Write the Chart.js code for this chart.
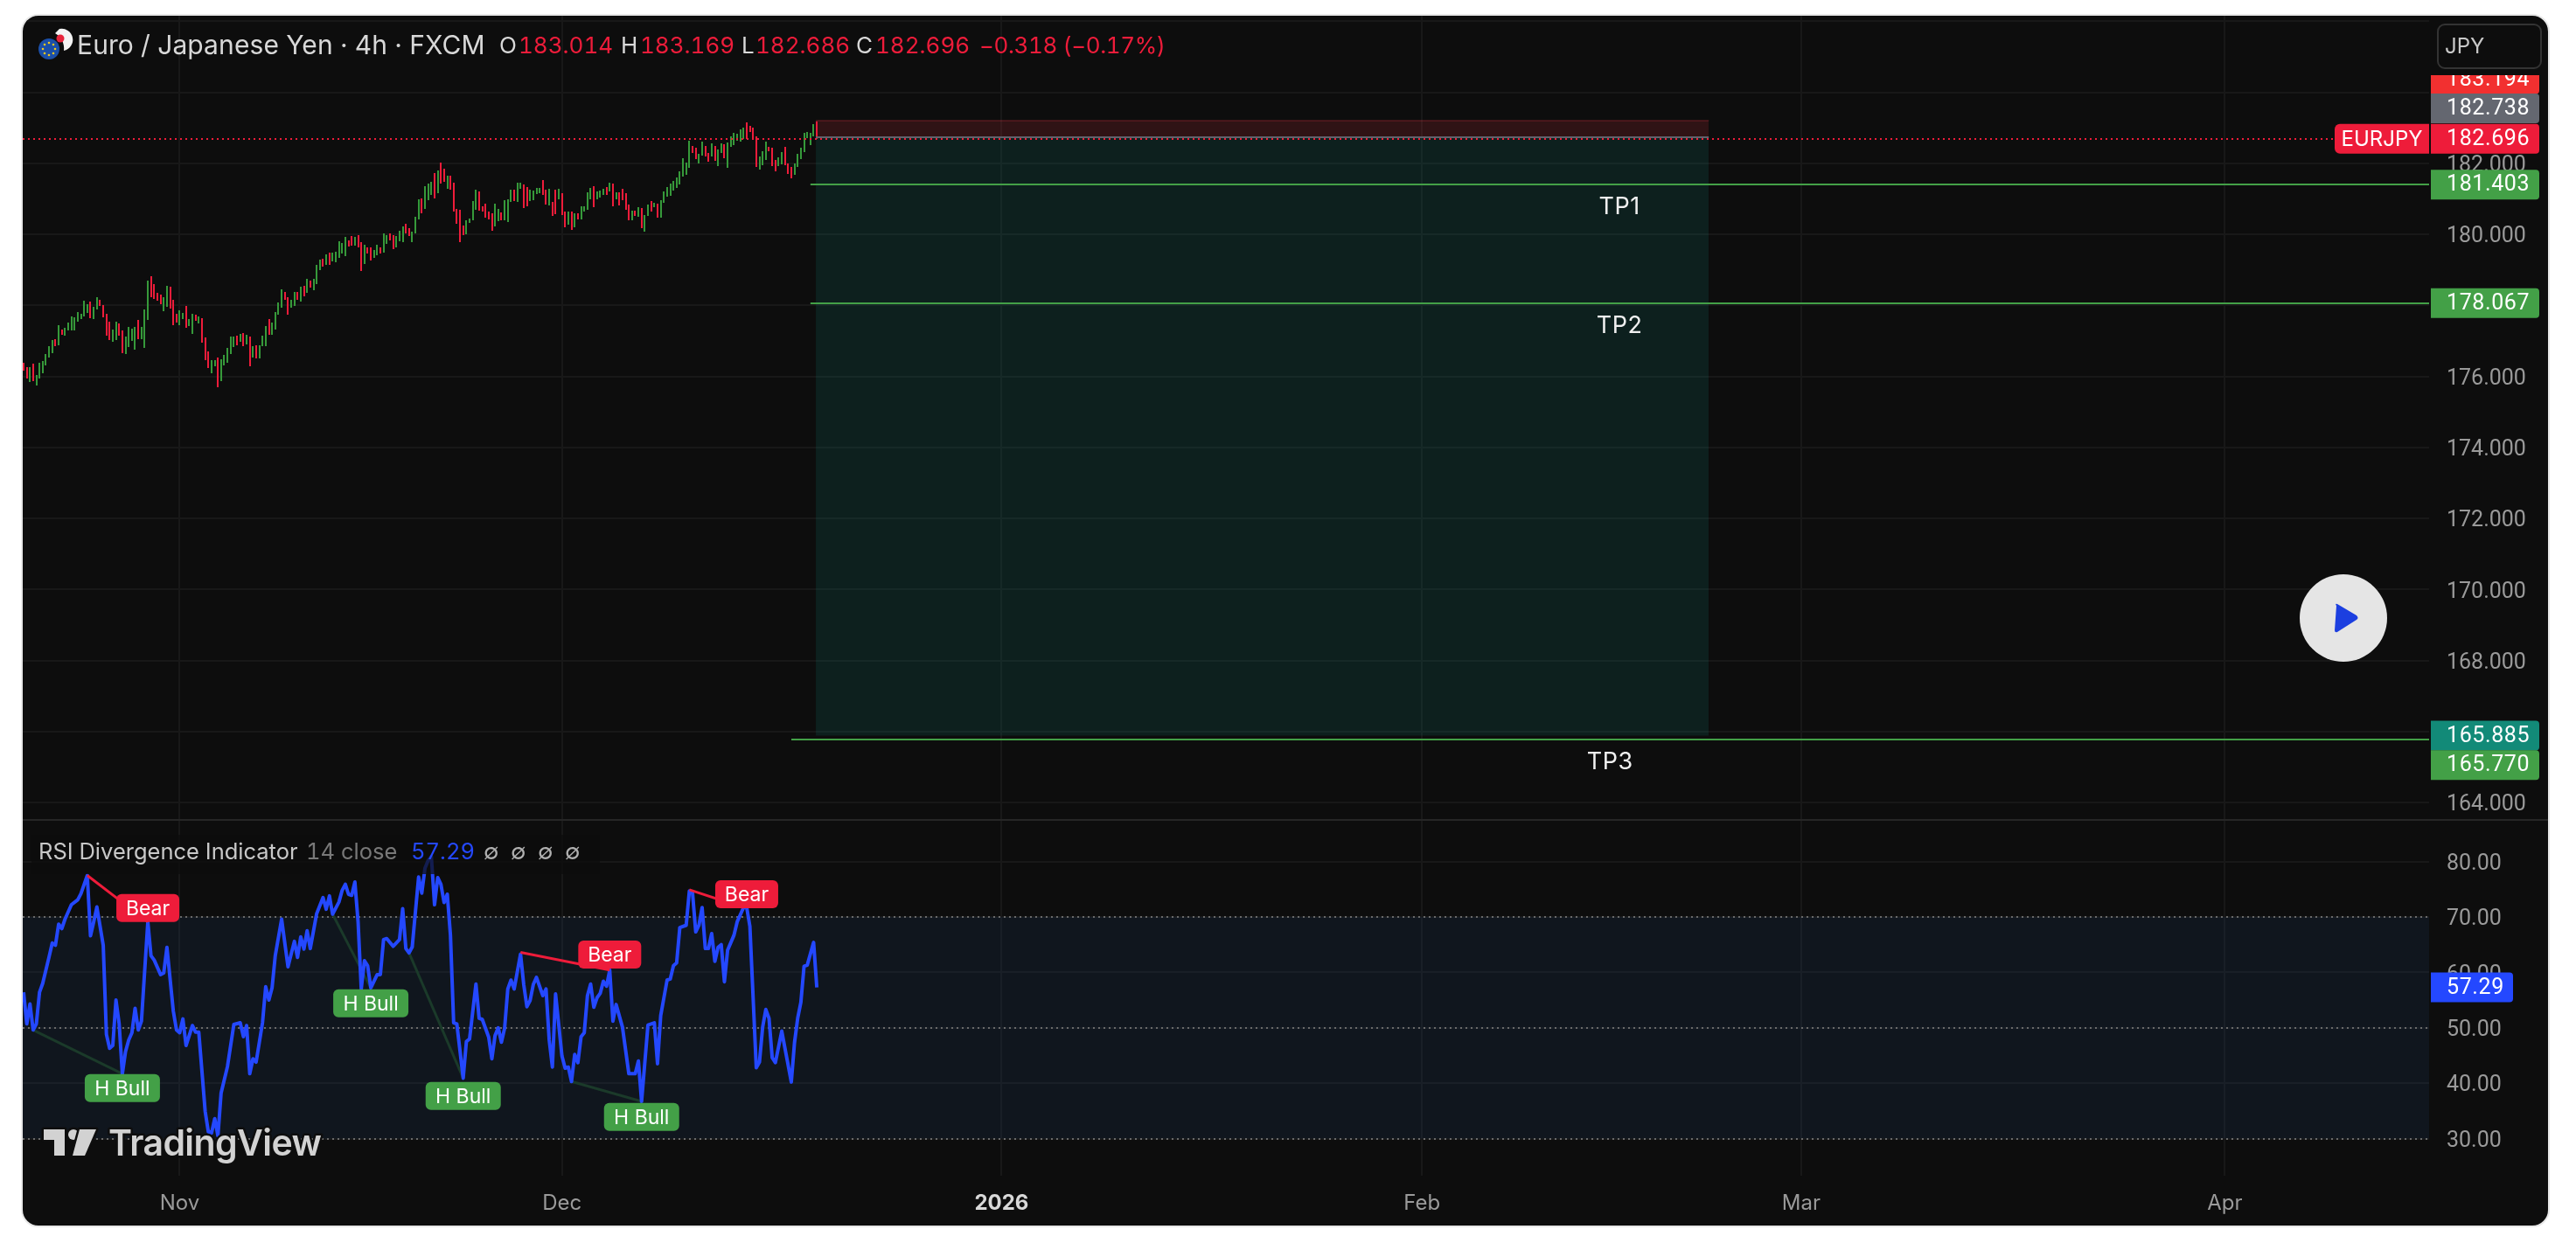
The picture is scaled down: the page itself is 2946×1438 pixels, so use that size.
<!DOCTYPE html>
<html>
<head>
<meta charset="utf-8">
<script src="https://cdn.jsdelivr.net/npm/chart.js@4/dist/chart.umd.min.js"></script>
<style>
  html, body { margin: 0; padding: 0; background: #fff; }
  body { width: 2946px; height: 1438px; position: relative; overflow: hidden; font-family: Inter, sans-serif; }
  #card { position: absolute; left: 24px; top: 16px; width: 2888px; height: 1384px; border: 2px solid #e8e8e8; border-radius: 20px; background: #0d0d0d; overflow: hidden; }
  canvas { position: absolute; left: 0; display: block; }
  #priceChart { top: 0; }
  #rsiChart { top: 921px; }
  #separator { position: absolute; left: 0; top: 919px; width: 2888px; height: 2px; background: #262626; }
  .t { position: absolute; white-space: nowrap; line-height: 1; font-variant-numeric: tabular-nums; }
  #legendBack { position: absolute; left: 10px; top: 937px; width: 650px; height: 45px; background: rgba(13,13,13,0.72); }
  #jpy { position: absolute; left: 2761px; top: 9px; width: 116px; height: 48px; border: 2px solid #333; border-radius: 9px; color: #c8c8c8; font-size: 24px; line-height: 48px; text-indent: 7px; }
  svg.over { position: absolute; left: 0; top: 0; width: 2888px; height: 1384px; pointer-events: none; }
</style>
</head>
<body>
<div id="card">
  <canvas id="priceChart" width="2888" height="920"></canvas>
  <canvas id="rsiChart" width="2888" height="461"></canvas>
  <div id="separator"></div>

  <span class="t" style="left:62px;top:18px;font-size:30px;color:#d8d8d8;letter-spacing:0.1px">Euro / Japanese Yen · 4h · FXCM</span>
  <span class="t" style="left:545px;top:21px;font-size:26px;color:#d8d8d8">O</span>
  <span class="t" style="left:567px;top:21px;font-size:26px;color:#ee1c3a">183.014</span>
  <span class="t" style="left:684px;top:21px;font-size:26px;color:#d8d8d8">H</span>
  <span class="t" style="left:706px;top:21px;font-size:26px;color:#ee1c3a">183.169</span>
  <span class="t" style="left:822px;top:21px;font-size:26px;color:#d8d8d8">L</span>
  <span class="t" style="left:838px;top:21px;font-size:26px;color:#ee1c3a">182.686</span>
  <span class="t" style="left:953px;top:21px;font-size:26px;color:#d8d8d8">C</span>
  <span class="t" style="left:975px;top:21px;font-size:26px;color:#ee1c3a">182.696</span>
  <span class="t" style="left:1094px;top:21px;font-size:26px;color:#ee1c3a;letter-spacing:-0.4px">−0.318 (−0.17%)</span>
  <div id="jpy">JPY</div>

  <div id="legendBack"></div>
  <span class="t" style="left:18px;top:943px;font-size:25.5px;color:#c8c8c8">RSI Divergence Indicator</span>
  <span class="t" style="left:324px;top:943px;font-size:25.5px;color:#787878">14 close</span>
  <span class="t" style="left:444px;top:943px;font-size:25.5px;color:#2448ff">57.29</span>
  <span class="t" style="left:527px;top:943px;font-size:25.5px;color:#b0b0b0">∅</span>
  <span class="t" style="left:558px;top:943px;font-size:25.5px;color:#b0b0b0">∅</span>
  <span class="t" style="left:589px;top:943px;font-size:25.5px;color:#b0b0b0">∅</span>
  <span class="t" style="left:620px;top:943px;font-size:25.5px;color:#b0b0b0">∅</span>

  <svg class="over" viewBox="0 0 2888 1384">
    <circle cx="30" cy="38" r="12" fill="#1b4fa8"/>
    <g fill="#f2c81e"><circle cx="30" cy="31" r="1.3"/><circle cx="37" cy="38" r="1.3"/><circle cx="30" cy="45" r="1.3"/><circle cx="23" cy="38" r="1.3"/><circle cx="35" cy="33" r="1.3"/><circle cx="35" cy="43" r="1.3"/><circle cx="25" cy="33" r="1.3"/><circle cx="25" cy="43" r="1.3"/></g>
    <path d="M42 15 A12 12 0 0 1 47 40 A20 20 0 0 0 37 20 Z" fill="#f4f4f4"/>
    <circle cx="43" cy="26" r="4.5" fill="#e8243c"/>

    <circle cx="2654" cy="689" r="50" fill="#e5e5e5"/>
    <path d="M2646 675 Q2644 672 2647 673 L2669 686 Q2672 689 2669 691 L2647 705 Q2644 706 2644 703 Z" fill="#1c3fe0"/>

    <g stroke="#0e0e0e" stroke-width="5" stroke-linejoin="round" paint-order="stroke" fill="#d2d2d2">
      <path d="M24 1274 H48 V1304 H36 V1286 H24 Z"/>
      <circle cx="58" cy="1280" r="6"/>
      <path d="M65 1274 H84 L71 1304 H57 Z"/>
      <text x="98" y="1304" font-size="41" font-weight="600" font-family="Inter, sans-serif" letter-spacing="-0.6">TradingView</text>
    </g>
  </svg>
</div>

<script>
// candles, oldest first
var candleHigh = [
  176.39,176.27,176.27,176.37,176.04,176.39,176.44,176.64,176.86,177.03,
  177.05,177.45,177.32,177.37,177.52,177.69,177.67,177.82,177.77,178.14,
  178.04,178.11,177.96,178.24,178.16,178.01,177.77,177.55,177.32,177.55,
  177.50,177.30,177.13,177.40,177.35,177.40,177.59,177.40,177.89,178.70,
  178.83,178.60,178.36,178.31,178.24,178.55,178.53,178.16,177.77,177.87,
  177.79,177.99,177.62,177.77,177.74,177.69,177.64,177.10,176.71,176.46,
  176.46,176.54,176.49,176.61,176.81,177.13,177.13,177.15,177.20,177.23,
  177.18,177.13,176.86,176.88,176.88,177.15,177.42,177.62,177.52,177.82,
  178.09,178.46,178.38,178.24,178.16,178.38,178.38,178.53,178.55,178.75,
  178.70,178.75,179.15,179.29,179.32,179.44,179.49,179.49,179.52,179.81,
  179.76,179.93,179.83,179.96,179.93,179.98,179.78,179.71,179.64,179.64,
  179.56,179.71,179.64,180.03,179.98,180.03,179.98,179.96,180.10,180.23,
  180.30,180.18,180.08,180.50,180.99,181.02,181.36,181.43,181.48,181.73,
  181.80,182.03,181.85,181.66,181.66,181.46,180.72,180.70,180.25,180.40,
  180.45,180.94,181.26,181.21,180.79,180.87,180.65,180.60,180.87,180.72,
  180.62,180.97,180.99,181.26,181.26,181.46,181.46,181.41,181.34,181.26,
  181.24,181.31,181.31,181.53,181.26,181.29,180.92,181.26,181.29,181.16,
  180.65,180.65,180.65,180.60,180.60,180.79,180.79,181.19,181.31,181.36,
  181.21,181.24,181.29,181.34,181.46,181.43,181.19,181.19,181.29,181.16,
  180.84,180.67,180.67,180.77,180.74,180.55,180.84,180.94,180.89,180.87,
  180.97,181.21,181.34,181.43,181.51,181.61,181.78,182.15,182.03,182.64,
  182.49,182.44,182.27,182.62,182.49,182.30,182.57,182.49,182.39,182.57,
  182.54,182.59,182.76,182.86,182.84,182.96,183.01,183.16,183.06,183.01,
  182.76,182.20,182.35,182.62,182.47,182.44,182.10,182.17,182.32,182.47,
  182.00,181.90,182.00,182.27,182.44,182.86,182.89,182.86,183.11,183.17
];
var candleLow = [
  176.17,175.95,175.85,175.87,175.75,175.95,176.09,176.32,176.54,176.66,
  176.86,176.88,177.18,177.15,177.30,177.30,177.30,177.55,177.62,177.69,
  177.79,177.64,177.62,177.89,177.99,177.67,177.15,177.03,176.98,177.03,
  177.15,176.66,176.64,176.83,177.00,176.76,177.05,177.05,176.81,177.59,
  178.24,178.19,178.14,178.04,177.84,177.96,177.91,177.45,177.52,177.45,
  177.62,177.37,177.42,177.20,177.57,177.50,176.95,176.46,176.24,176.09,
  176.29,175.70,175.87,176.32,176.39,176.64,176.83,176.88,176.98,176.86,
  176.91,176.29,176.54,176.51,176.51,176.86,176.86,177.18,177.18,177.32,
  177.74,177.94,178.16,177.74,177.94,177.99,178.16,178.11,178.26,178.36,
  178.51,178.43,178.60,179.00,179.10,179.15,179.15,179.24,179.22,179.34,
  179.47,179.39,179.66,179.69,179.69,179.64,178.97,179.17,179.47,179.27,
  179.34,179.42,179.47,179.49,179.74,179.83,179.59,179.64,179.81,179.78,
  180.03,179.96,179.78,180.03,180.43,180.60,180.72,180.97,181.11,181.02,
  181.16,181.43,181.48,181.29,181.26,180.65,180.30,179.79,179.98,180.01,
  180.33,180.40,180.70,180.67,180.65,180.47,180.43,180.10,180.23,180.38,
  180.40,180.40,180.35,180.92,180.94,180.92,181.29,180.74,180.79,180.94,
  180.97,181.14,181.16,181.11,180.84,180.82,180.52,180.57,180.99,180.55,
  180.20,180.28,180.13,180.20,180.43,180.43,180.65,180.70,180.99,180.77,
  180.99,181.04,181.11,181.11,181.21,180.79,180.99,180.82,180.97,180.70,
  180.40,180.40,180.52,180.50,180.18,180.08,180.52,180.65,180.77,180.47,
  180.47,180.89,181.06,181.09,181.24,181.31,181.41,181.63,181.68,181.88,
  182.30,182.12,182.00,182.22,182.20,182.05,182.20,182.07,181.93,182.30,
  182.15,181.88,182.47,182.52,182.64,182.62,182.69,182.69,182.89,182.69,
  181.90,181.83,181.95,182.10,182.35,181.93,181.78,181.93,181.98,181.95,
  181.70,181.58,181.68,181.90,182.12,182.32,182.71,182.52,182.76,182.69
];
var candleDir = (
  'rrgrgggggg' + 'rgrggggggg' + 'grggrrrrgg' + 'rrggggrggg' + 'rrrrggrrrg' +
  'grggrgrrrg' + 'grgggggrgr' + 'grgrgggrgg' + 'ggrrggrgrg' + 'rgggrgrggg' +
  'ggrrgrrgrr' + 'ggrggrrggg' + 'rrgggrgggr' + 'grrgrrrrrg' + 'gggrrrrrgg' +
  'rgggrggrrg' + 'gggrrgrrgr' + 'rgrgrggggr' + 'gggrgrgrrr' + 'rgrgrggrgr' +
  'gggggggggg' + 'rrggrrgrgg' + 'rggggggrrr' + 'rgggrrrggr' + 'rrgggggggr'
).split('');

// RSI turning points: bar number and value
var rsiBar = [
  0,1,2,3,4,5,6,8,9,10,11,12,13,15,17,18,20,21,22,23,25,26,27,28,29,30,31,32,33,34,35,36,37,39,40,41,43,44,45,47,48,49,
  50,51,53,54,55,57,58,59,60,61,62,64,66,68,69,70,71,72,73,75,76,77,78,79,81,83,85,86,87,88,89,90,92,94,95,96,97,99,
  100,101,102,103,104,105,106,107,108,109,111,112,113,114,116,118,119,120,121,122,124,125,126,127,128,129,130,131,132,133,134,135,136,138,139,140,
  142,143,144,146,147,148,149,150,151,152,153,154,156,157,158,159,160,161,163,164,165,166,167,169,170,171,172,173,174,175,176,177,178,179,180,181,182,183,184,185,186,188,
  190,192,193,194,196,198,199,200,202,203,204,205,206,208,209,210,211,212,213,214,215,216,217,218,219,220,221,223,224,226,227,228,230,231,232,233,234,235,236,238,
  241,242,243,244,245,246,248,249
];
var rsiValue = [
  56.4,50.7,54.3,49.6,50.7,56.4,58.0,62.8,65.3,64.9,68.7,67.9,69.6,72.2,73.1,74.2,77.5,66.6,69.1,71.8,64.9,48.8,46.3,46.8,55.0,50.7,41.7,45.7,47.8,49.1,53.5,49.6,51.2,69.1,63.0,62.2,59.6,59.9,64.5,53.0,49.6,49.1,
  51.6,46.8,50.4,49.2,49.2,34.9,31.2,31.0,33.6,30.5,38.2,43.0,50.6,50.9,48.4,50.4,41.7,44.4,43.8,50.9,57.4,55.0,57.2,63.0,69.6,61.0,65.6,62.7,66.4,64.2,67.5,64.3,70.6,73.5,71.4,73.8,70.5,72.7,
  74.8,75.9,74.1,73.9,76.3,69.1,57.0,62.1,61.2,57.2,59.6,59.6,65.9,66.1,64.7,65.9,71.5,64.3,63.5,64.6,77.2,74.3,78.8,80.2,80.9,72.2,77.1,75.9,72.6,74.1,66.7,50.9,50.7,40.9,47.5,48.0,
  57.9,51.7,51.5,48.3,44.4,48.6,50.0,47.4,49.9,57.0,58.6,57.0,63.3,57.8,53.8,54.9,57.8,59.1,55.8,57.0,47.8,42.9,56.1,44.9,42.7,42.9,40.3,45.2,43.7,48.4,49.1,55.8,57.9,53.7,55.4,56.2,58.4,57.5,60.4,51.2,54.2,50.1,
  41.7,41.7,44.0,36.7,50.5,50.9,43.5,52.2,58.6,58.8,61.2,61.7,68.1,68.5,74.7,74.3,67.3,68.5,71.7,64.3,64.3,67.0,62.0,64.5,65.0,58.3,64.0,66.7,69.1,71.7,71.7,68.3,42.8,43.8,50.1,53.3,51.7,44.6,43.7,49.4,
  40.2,47.3,51.7,54.6,61.1,61.3,65.4,57.29
];

// divergence lines as [bar, value, bar, value]
var bearLines = [[20, 77.5, 39, 69.1], [156, 63.6, 184, 60.4], [209, 74.9, 226, 71.7]];
var bullLines = [[3, 49.6, 31, 41.7], [97, 70.5, 109, 57.2], [121, 63.5, 138, 40.9], [172, 40.3, 194, 36.7]];

var rsiTagText = ['Bear', 'H Bull', 'H Bull', 'H Bull', 'Bear', 'H Bull', 'Bear'];
var rsiTagBar = [39, 31, 109, 138, 184, 194, 227];
var rsiTagValue = [71.6, 39.1, 54.4, 37.7, 63.2, 33.9, 74.1];

var monthBar = [49, 169, 307, 439, 558, 691];
var monthLabel = ['Nov', 'Dec', '2026', 'Feb', 'Mar', 'Apr'];

var priceTicks = [186, 184, 182, 180, 178, 176, 174, 172, 170, 168, 166, 164];
var priceTicksHidden = [186, 184, 166];
var rsiTicks = [80, 70, 60, 50, 40, 30];
var rsiLevels = [70, 50, 30];

var lastClose = 182.696;
var entryPrice = 182.738;
var stopPrice = 183.194;
var targetPrice = 165.885;
var zoneFromBar = 248.7;
var zoneToBar = 529;

var tpName = ['TP1', 'TP2', 'TP3'];
var tpPrice = [181.403, 178.067, 165.77];
var tpFromBar = [247, 247, 241];
var tpLabelBar = [501, 501, 498];

var priceTagValue = [183.194, 182.738, 182.696, 181.403, 178.067, 165.885, 165.77];
var priceTagColor = ['#f23030', '#646770', '#ee1c3a', '#43a047', '#43a047', '#128a78', '#43a047'];
var priceTagShift = [-48, -33, 0, 0, 0, 0, 29];

var GREEN = '#36993a';
var RED = '#ee1c3a';
var GRID = '#181818';
var FONT = 'Inter, sans-serif';
var NUM_FONT = 'Roboto, sans-serif';
var xMin = -0.27;
var xMax = 755.13;

Chart.defaults.font.family = FONT;
Chart.defaults.animation = false;
Chart.defaults.responsive = false;

function zeroPadding(scale) {
  scale.paddingTop = scale.paddingBottom = scale.paddingLeft = scale.paddingRight = 0;
}

function timeScale(showLabels, height) {
  return {
    type: 'linear',
    min: xMin,
    max: xMax,
    offset: false,
    border: { display: false },
    // the bar dataset would otherwise push grid lines between ticks
    grid: { color: GRID, lineWidth: 2, drawTicks: false, offset: false },
    afterBuildTicks: function(scale) {
      scale.ticks = monthBar.map(function(b) { return { value: b }; });
    },
    afterFit: function(scale) {
      scale.height = height;
      zeroPadding(scale);
    },
    ticks: {
      display: showLabels,
      autoSkip: false,
      maxRotation: 0,
      padding: 17,
      color: function(ctx) { return monthLabel[ctx.index] === '2026' ? '#d8d8d8' : '#9a9a9a'; },
      font: function(ctx) {
        return { size: 24, weight: monthLabel[ctx.index] === '2026' ? '700' : '400' };
      },
      callback: function(value, i) { return monthLabel[i]; }
    }
  };
}

// ticks sit a touch low in the original, move the labels down
function nudgeLabels(scale, dy) {
  var compute = scale._computeLabelItems;
  scale._computeLabelItems = function(area) {
    var items = compute.call(scale, area);
    items.forEach(function(item) { item.options.translation[1] += dy; });
    return items;
  };
}

function valueScale(min, max, ticks, format) {
  return {
    type: 'linear',
    position: 'right',
    min: min,
    max: max,
    border: { display: false },
    grid: { color: GRID, lineWidth: 2, drawTicks: false },
    afterBuildTicks: function(scale) {
      scale.ticks = ticks.map(function(v) { return { value: v }; });
    },
    afterFit: function(scale) {
      scale.width = 136;
      zeroPadding(scale);
      if (!scale._nudged) {
        nudgeLabels(scale, 3);
        scale._nudged = true;
      }
    },
    ticks: { autoSkip: false, padding: 20, color: '#9a9a9a', font: { size: 25, family: NUM_FONT }, callback: format }
  };
}

function hline(value, from, to, color, width, dash, order, fill, fillColor) {
  return {
    type: 'line',
    crisp: true,
    data: [{ x: from, y: value }, { x: to, y: value }],
    borderColor: color,
    borderWidth: width,
    borderDash: dash || [],
    pointRadius: 0,
    order: order,
    fill: fill || false,
    backgroundColor: fillColor || 'transparent'
  };
}

function drawTag(ctx, x, y, w, h, radii, fill, text, textX, align, font, spacing) {
  ctx.fillStyle = fill;
  ctx.beginPath();
  ctx.roundRect(x, y, w, h, radii);
  ctx.fill();
  ctx.fillStyle = '#fff';
  ctx.font = font;
  ctx.letterSpacing = spacing;
  ctx.textAlign = align;
  ctx.textBaseline = 'middle';
  ctx.fillText(text, textX, y + h / 2 + 1);
}

// whole-pixel candles and level lines keep them as crisp as the original
var crispPlugin = {
  id: 'crisp',
  afterDatasetsUpdate: function(chart) {
    chart.data.datasets.forEach(function(ds, i) {
      if (ds.type !== 'bar' && !ds.crisp) return;
      chart.getDatasetMeta(i).data.forEach(function(el) {
        if (ds.type === 'bar') {
          el.x = Math.round(el.x);
          el.base = Math.round(el.base);
        }
        el.y = Math.round(el.y);
      });
    });
  }
};

var priceTagsPlugin = {
  id: 'priceTags',
  afterDraw: function(chart) {
    var ctx = chart.ctx;
    var x = chart.scales.x;
    var y = chart.scales.y;
    ctx.save();
    tpName.forEach(function(name, i) {
      ctx.fillStyle = '#f0f0f0';
      ctx.font = '27px ' + FONT;
      ctx.letterSpacing = '0.5px';
      ctx.textAlign = 'center';
      ctx.textBaseline = 'middle';
      ctx.fillText(name, x.getPixelForValue(tpLabelBar[i]), y.getPixelForValue(tpPrice[i]) + 26);
    });
    var right = chart.chartArea.right;
    ctx.beginPath();
    ctx.rect(0, 68, chart.width, chart.height - 68);
    ctx.clip();
    priceTagValue.forEach(function(v, i) {
      var cy = y.getPixelForValue(v) + priceTagShift[i];
      drawTag(ctx, right + 2, cy - 17, 124, 34, [0, 4, 4, 0], priceTagColor[i], v.toFixed(3), right + 20, 'left', '25px ' + NUM_FONT, '0.6px');
    });
    var cy = y.getPixelForValue(lastClose);
    drawTag(ctx, right - 108, cy - 17, 108, 34, [6, 0, 0, 6], RED, 'EURJPY', right - 54, 'center', '24px ' + FONT, '0px');
    ctx.restore();
  }
};

var rsiTagsPlugin = {
  id: 'rsiTags',
  afterDraw: function(chart) {
    var ctx = chart.ctx;
    var x = chart.scales.x;
    var y = chart.scales.y;
    ctx.save();
    rsiTagText.forEach(function(text, i) {
      var w = text === 'Bear' ? 72 : 86;
      var cx = x.getPixelForValue(rsiTagBar[i]);
      var cy = y.getPixelForValue(rsiTagValue[i]);
      drawTag(ctx, cx - w / 2, cy - 16, w, 32, 6, text === 'Bear' ? RED : '#43a047', text, cx, 'center', '23px ' + FONT, '0px');
    });
    var right = chart.chartArea.right;
    var last = rsiValue[rsiValue.length - 1];
    var cy = y.getPixelForValue(last);
    drawTag(ctx, right + 2, cy - 17, 94, 34, [0, 4, 4, 0], '#2448ff', last.toFixed(2), right + 20, 'left', '25px ' + NUM_FONT, '0.6px');
    ctx.restore();
  }
};

var priceDatasets = [
  {
    type: 'bar',
    data: candleHigh.map(function(h, i) { return { x: i, y: [candleLow[i], h] }; }),
    backgroundColor: candleDir.map(function(d) { return d === 'g' ? GREEN : RED; }),
    barThickness: 2,
    inflateAmount: 0,
    order: 5
  },
  hline(stopPrice, zoneFromBar, zoneToBar, 'rgba(242,54,69,0.2)', 2, null, 6, { value: entryPrice }, 'rgba(242,54,69,0.15)'),
  hline(entryPrice, zoneFromBar, zoneToBar, '#60626b', 2, null, 4, { value: targetPrice }, 'rgba(15,140,130,0.15)'),
  hline(lastClose, xMin, xMax, RED, 2, [2, 4], 3)
];
tpName.forEach(function(name, i) {
  priceDatasets.push(hline(tpPrice[i], tpFromBar[i], xMax, '#43a047', 2, null, 2));
});

var priceCanvas = document.getElementById('priceChart');
priceCanvas.getContext('2d').letterSpacing = '0.6px';
new Chart(priceCanvas, {
  type: 'line',
  data: { datasets: priceDatasets },
  plugins: [crispPlugin, priceTagsPlugin],
  options: {
    layout: { padding: 0 },
    plugins: { legend: { display: false }, tooltip: { enabled: false } },
    scales: {
      x: timeScale(false, 0),
      y: valueScale(163.51, 186.16, priceTicks, function(v) {
        return priceTicksHidden.indexOf(v) >= 0 ? '' : v.toFixed(3);
      })
    }
  }
});

var rsiDatasets = [
  {
    type: 'line',
    data: rsiBar.map(function(b, i) { return { x: b, y: rsiValue[i] }; }),
    borderColor: '#2448ff',
    borderWidth: 4,
    borderJoinStyle: 'round',
    pointRadius: 0,
    tension: 0,
    fill: false,
    order: 1
  },
  hline(rsiLevels[0], xMin, xMax, 'transparent', 0, null, 9, { value: rsiLevels[2] }, 'rgba(30,60,100,0.2)')
];
rsiLevels.forEach(function(v) {
  rsiDatasets.push(hline(v, xMin, xMax, '#6a6a6a', 2, [2, 4], 8));
});
bullLines.forEach(function(l) {
  rsiDatasets.push({ type: 'line', data: [{ x: l[0], y: l[1] }, { x: l[2], y: l[3] }], borderColor: '#1b3a2a', borderWidth: 3, pointRadius: 0, order: 2 });
});
bearLines.forEach(function(l) {
  rsiDatasets.push({ type: 'line', data: [{ x: l[0], y: l[1] }, { x: l[2], y: l[3] }], borderColor: RED, borderWidth: 3, pointRadius: 0, order: 0 });
});

var rsiCanvas = document.getElementById('rsiChart');
rsiCanvas.getContext('2d').letterSpacing = '0.6px';
new Chart(rsiCanvas, {
  type: 'line',
  data: { datasets: rsiDatasets },
  plugins: [crispPlugin, rsiTagsPlugin],
  options: {
    layout: { padding: 0 },
    plugins: { legend: { display: false }, tooltip: { enabled: false } },
    scales: {
      x: timeScale(true, 55),
      y: valueScale(23.3, 87.35, rsiTicks, function(v) { return v.toFixed(2); })
    }
  }
});
</script>
</body>
</html>
